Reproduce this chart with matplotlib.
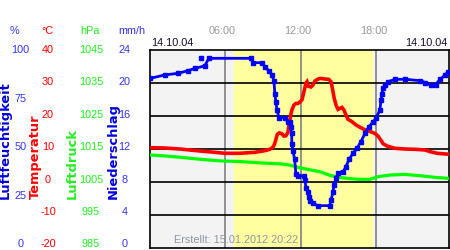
import matplotlib
matplotlib.use("Agg")
import matplotlib.pyplot as plt

# --- data (hours since 00:00)
hum_hours = [0.03, 1.17, 2.2, 3.0, 3.56, 4.36, 4.67, 8.0, 8.18, 8.9, 9.13, 9.45,
             9.69, 9.85, 9.93, 10.0, 10.1, 10.25, 10.7, 10.96, 11.12, 11.18, 11.26,
             11.28, 11.36, 11.5, 11.6, 11.76, 12.24, 12.32, 12.4, 12.56, 12.64, 12.72,
             12.95, 13.35, 14.3, 14.39, 14.55, 14.63, 14.79, 14.95, 15.34, 15.58, 15.82,
             16.14, 16.45, 16.77, 17.09, 17.4, 17.72, 17.96, 18.28, 18.36, 18.44, 18.52,
             18.7, 18.93, 19.5, 20.3, 21.5, 21.9, 22.3, 22.7, 23.06, 23.46, 23.7]
humidity = [85.7, 87.4, 88.2, 89.5, 90.7, 92.0, 95.8, 95.8, 93.6, 93.6, 91.5, 89.5,
            87.4, 84.5, 77.8, 73.9, 69.7, 65.8, 65.8, 63.8, 63.8, 61.3, 57.9,
            52.5, 49.1, 44.8, 37.4, 36.4, 36.4, 34.3, 30.2, 28.4, 25.9, 23.5,
            22.5, 21.4, 21.4, 24.2, 28.4, 31.8, 35.2, 38.0, 38.5, 41.0, 44.8,
            47.8, 50.4, 53.7, 57.9, 61.3, 63.5, 65.5, 69.7, 74.7, 77.8, 80.7,
            82.3, 84.0, 85.2, 85.2, 84.5, 83.5, 82.3, 82.5, 85.2, 87.4, 89.0]
# single stray reading drawn as a lone dot
hum_outlier_hours = [4.04]
hum_outlier = [95.8]

temp_hours = [0.0, 1.18, 2.37, 3.96, 5.15, 5.95, 7.14, 8.33, 9.13, 9.53, 9.77, 9.89,
              9.97, 10.05, 10.13, 10.29, 10.49, 10.64, 10.8, 10.96, 11.04, 11.12, 11.2,
              11.28, 11.44, 11.6, 11.76, 11.92, 12.08, 12.24, 12.4, 12.48, 12.6, 12.8,
              12.95, 13.11, 13.35, 13.59, 13.9, 14.22, 14.39, 14.47, 14.55, 14.63,
              14.79, 14.95, 15.1, 15.26, 15.42, 15.58, 15.74, 16.05, 16.37, 16.69,
              17.09, 17.49, 17.89, 18.13, 18.37, 18.53, 18.85, 19.48, 20.28, 21.07,
              21.87, 22.27, 22.82, 23.78]
temperature = [10.4, 10.3, 10.0, 9.4, 9.0, 8.7, 8.7, 9.0, 9.5, 9.9, 10.5, 11.4,
               12.4, 13.5, 14.5, 14.9, 14.6, 13.9, 14.0, 15.0, 17.0, 18.8, 20.5,
               21.8, 23.3, 23.8, 23.8, 24.2, 24.9, 27.4, 30.0, 30.4, 29.0, 28.8,
               29.4, 30.6, 31.2, 31.4, 31.2, 31.1, 30.4, 28.9, 27.4, 25.6,
               23.3, 22.0, 22.3, 22.6, 21.8, 20.3, 19.0, 18.3, 17.3, 16.6,
               15.8, 15.3, 14.7, 13.9, 12.6, 11.6, 10.9, 10.2, 10.0, 9.9,
               9.7, 9.2, 8.7, 8.4]

press_hours = [0.0, 1.18, 2.37, 3.96, 5.55, 7.14, 8.73, 10.32, 11.12, 11.92, 12.72,
               13.51, 14.31, 15.1, 15.9, 16.69, 17.49, 18.13, 19.08, 20.28, 21.47,
               22.66, 23.78]
pressure = [1013.2, 1012.9, 1012.5, 1011.9, 1011.4, 1011.2, 1010.8, 1010.5, 1010.1,
            1009.3, 1008.7, 1008.1, 1007.0, 1006.4, 1006.0, 1005.8, 1005.8, 1006.6,
            1007.1, 1007.3, 1006.9, 1006.4, 1006.1]

daylight = (6.68, 17.63)
time_ticks = [6, 12, 18]
time_labels = ["06:00", "12:00", "18:00"]

hum_labels = ["100", "75", "50", "25", "0"]
temp_labels = ["40", "30", "20", "10", "0", "-10", "-20"]
press_labels = ["1045", "1035", "1025", "1015", "1005", "995", "985"]
rain_labels = ["24", "20", "16", "12", "8", "4", "0"]

date_text = "14.10.04"
created_text = "Erstellt: 15.01.2012 20:22"

BLUE = "#0000ff"
RED = "#ff0000"
GREEN = "#00ff00"
TXT = "Liberation Sans"

W, H = 450, 250
fig = plt.figure(figsize=(W / 100, H / 100), dpi=100)
ax = fig.add_axes([150 / W, 1 - 248 / H, 299 / W, 198 / H])
ax.set_facecolor("#f3f3f3")
ax.set_xlim(0, 23.77)
ax.set_ylim(-20, 40)
ax.axvspan(*daylight, color="#ffffa0", zorder=0)
for t in time_ticks:
    ax.axvline(t, color="#808080", lw=1.2, zorder=1)
for v in [-10, 0, 10, 20, 30]:
    ax.axhline(v, color="black", lw=1.2, zorder=1)
ax.set_xticks([])
ax.set_yticks([])
for s in ax.spines.values():
    s.set_linewidth(1.2)

ax.plot(temp_hours, temperature, color=RED, lw=2.6, zorder=4, solid_joinstyle="miter")

ax_p = ax.twinx()
ax_p.set_ylim(985, 1045)
ax_p.plot(press_hours, pressure, color=GREEN, lw=2.3, zorder=3)

ax_h = ax.twinx()
ax_h.set_ylim(0, 100)
ax_h.plot(hum_hours, humidity, color=BLUE, lw=2.0, marker="s", ms=2.6, zorder=5)
ax_h.plot(hum_outlier_hours, hum_outlier, color=BLUE, ls="none", marker="s", ms=2.6)
for a in (ax_p, ax_h):
    a.set_xlim(0, 23.77)
    a.set_yticks([])
    a.set_xticks([])
    for s in a.spines.values():
        s.set_visible(False)

# time labels on top
for t, lab in zip(time_ticks, time_labels):
    ax.annotate(lab, xy=(t, 1), xycoords=("data", "axes fraction"),
                xytext=(-3, 19), textcoords="offset pixels", ha="center",
                va="center", color="#999999", fontsize=7.8, family=TXT)

fig.text(151 / W, 1 - 43 / H, date_text, ha="left", va="center",
         color="#1a0a2a", fontsize=7.8, family=TXT)
fig.text(447 / W, 1 - 43 / H, date_text, ha="right", va="center",
         color="#1a0a2a", fontsize=7.8, family=TXT)
fig.text(236 / W, 1 - 240 / H, created_text, ha="center", va="center",
         color="#8c95a0", fontsize=7.8, family=TXT)

# left scale columns
heads = [("%", 14, "#3333ff"), ("°C", 47, RED), ("hPa", 90, "#22ee22"),
         ("mm/h", 132, "#3333ee")]
for txt, x, c in heads:
    fig.text(x / W, 1 - 31 / H, txt, ha="center", va="center", color=c,
             fontsize=7.8, family=TXT)

def column(labels, x, c, y0=50.0, y1=244.3):
    step = (y1 - y0) / (len(labels) - 1)
    for i, lab in enumerate(labels):
        fig.text(x / W, 1 - (y0 + i * step) / H, lab, ha="center", va="center",
                 color=c, fontsize=7.8, family=TXT)

column(hum_labels, 20.5, "#3333ff")
column(temp_labels, 48, RED)
column(press_labels, 91, "#22ee22")
column(rain_labels, 124.5, "#3333ee")

names = [("Luftfeuchtigkeit", 5, "#0000dd"), ("Temperatur", 35.5, RED),
         ("Luftdruck", 72, "#22ee22"), ("Niederschlag", 113, "#0000dd")]
for txt, x, c in names:
    fig.text(x / W, 1 - 199 / H, txt, rotation=90, ha="center", va="bottom",
             color=c, fontsize=9.4, fontweight="bold", family="DejaVu Sans")

fig.savefig("out.png", dpi=100)
